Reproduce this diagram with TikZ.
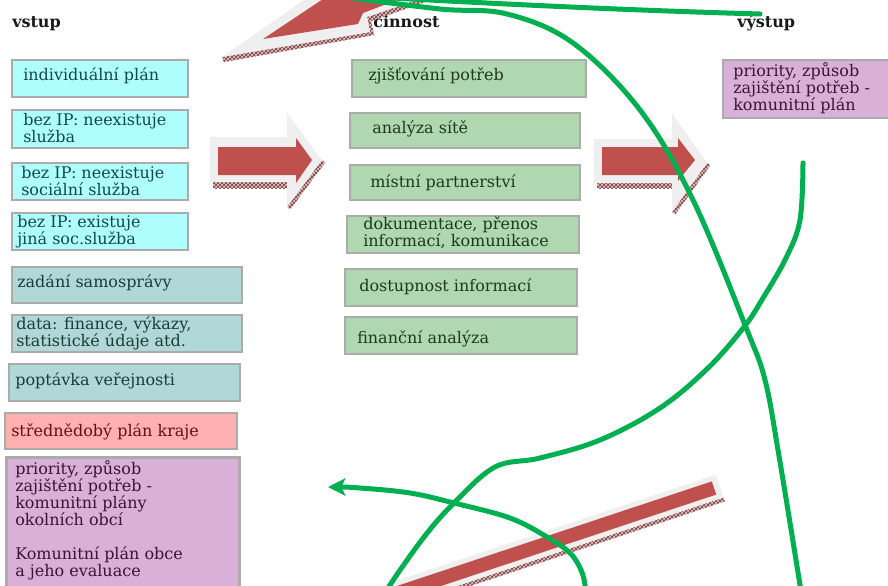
\documentclass[tikz,border=0pt]{standalone}
\usepackage{fontspec}
\setmainfont{DejaVu Serif}
\usetikzlibrary{fit,arrows.meta,patterns}
\definecolor{bordc}{HTML}{ABABAB}
\definecolor{cyanb}{HTML}{B0FFFF}
\definecolor{tealb}{HTML}{B0D8D8}
\definecolor{greenb}{HTML}{B0D8B0}
\definecolor{pinkb}{HTML}{FFB0B0}
\definecolor{purpb}{HTML}{D8B0D8}
\definecolor{cyant}{HTML}{124848}
\definecolor{tealt}{HTML}{1E3A3A}
\definecolor{greent}{HTML}{1E381E}
\definecolor{pinkt}{HTML}{6A0E0E}
\definecolor{purpt}{HTML}{3A1436}
\definecolor{arrred}{HTML}{C0504D}
\definecolor{arrgray}{HTML}{EFEFEF}
\definecolor{hatchbg}{HTML}{DDBDBD}
\definecolor{hatchfg}{HTML}{7A3A3A}
\definecolor{glinec}{HTML}{00B050}
\newcommand{\boxfont}{\fontsize{12}{12.75}\selectfont}
\begin{document}
\begin{tikzpicture}[x=0.75pt,y=-0.75pt,
  bx/.style={draw=bordc, line width=1.5pt, inner sep=0pt, rectangle},
  tx/.style={anchor=base west, inner sep=0pt, align=left, font=\boxfont},
  hd/.style={anchor=base west, inner sep=0pt, font=\boxfont\bfseries, text=black!90},
  grn/.style={draw=glinec, line width=3.75pt, line cap=round},
  hatch/.style={pattern=crosshatch, pattern color=hatchfg, preaction={fill=hatchbg}},
  arrg/.style={fill=arrgray},
  arrr/.style={fill=arrred}
]
\useasboundingbox (0,0) rectangle (888,585);
\clip (0,0) rectangle (888,585);

% headers
\node[hd] (hin) at (12,28) {vstup};
\node[hd] (hact) at (373,28) {činnost};
\node[hd] (hout) at (737,28) {výstup};

% left column (base anchor = baseline of last line)
\node[bx, fill=cyanb, fit={(12,60)(188,97)}] (b1) {};
\node[tx, text=cyant] (t1) at (23,80) {individuální plán};
\node[bx, fill=cyanb, fit={(12,110)(188,148)}] (b2) {};
\node[tx, text=cyant] (t2) at (23,142) {bez IP: neexistuje\\služba};
\node[bx, fill=cyanb, fit={(12,163)(188,200)}] (b3) {};
\node[tx, text=cyant] (t3) at (21,195) {bez IP: neexistuje\\sociální služba};
\node[bx, fill=cyanb, fit={(12,213)(188,250)}] (b4) {};
\node[tx, text=cyant] (t4) at (17,244) {bez IP: existuje\\jiná soc.služba};
\node[bx, fill=tealb, fit={(12,267)(242,303)}] (b5) {};
\node[tx, text=tealt] (t5) at (17,287) {zadání samosprávy};
\node[bx, fill=tealb, fit={(12,315)(242,352)}] (b6) {};
\node[tx, text=tealt] (t6) at (16,346) {data: finance, výkazy,\\statistické údaje atd.};
\node[bx, fill=tealb, fit={(9,364)(240,401)}] (b7) {};
\node[tx, text=tealt] (t7) at (15,385) {poptávka veřejnosti};
\node[bx, fill=pinkb, fit={(5,413)(237,449)}] (b8) {};
\node[tx, text=pinkt] (t8) at (11,436) {střednědobý plán kraje};
\node[bx, fill=purpb, line width=2.25pt, fit={(6,457)(239,600)}] (b9) {};
\node[tx, text=purpt] (t9) at (15,576) {priority, způsob\\zajištění potřeb -\\komunitní plány\\okolních obcí\\[12.75pt]Komunitní plán obce\\a jeho evaluace};

% middle column
\node[bx, fill=greenb, fit={(352,60)(586,97)}] (g1) {};
\node[tx, text=greent] (s1) at (368,80) {zjišťování potřeb};
\node[bx, fill=greenb, fit={(350,113)(580,148)}] (g2) {};
\node[tx, text=greent] (s2) at (372,133) {analýza sítě};
\node[bx, fill=greenb, fit={(350,165)(580,200)}] (g3) {};
\node[tx, text=greent] (s3) at (370,187) {místní partnerství};
\node[bx, fill=greenb, fit={(347,216)(579,253)}] (g4) {};
\node[tx, text=greent] (s4) at (363,246) {dokumentace, přenos\\informací, komunikace};
\node[bx, fill=greenb, fit={(345,269)(577,306)}] (g5) {};
\node[tx, text=greent] (s5) at (359,291) {dostupnost informací};
\node[bx, fill=greenb, fit={(345,317)(577,354)}] (g6) {};
\node[tx, text=greent] (s6) at (357,343) {finanční analýza};

% right column
\node[bx, fill=purpb, fit={(723,60)(895,118)}] (o1) {};
\node[tx, text=purpt] (u1) at (733,110) {priority, způsob\\zajištění potřeb -\\komunitní plán};

% block arrow 1
\fill[hatch] (213,182) rectangle (287,188);
\fill[hatch] (322,160) -- (325.2,162.4) -- (290.2,209.4) -- (287,207) -- cycle;
\fill[arrg] (210,137) -- (287,137) -- (287,113) -- (322,160) -- (287,207) -- (287,182) -- (210,182) -- cycle;
\fill[arrr] (218,147) -- (296,147) -- (296,138) -- (312,160) -- (296,183) -- (296,175) -- (218,175) -- cycle;

% block arrow 2
\fill[hatch] (597,183) rectangle (672,188);
\fill[hatch] (707,163) -- (710.2,165.4) -- (675.2,214.4) -- (672,212) -- cycle;
\fill[arrg] (594,139) -- (672,139) -- (672,113) -- (707,163) -- (672,212) -- (672,183) -- (594,183) -- cycle;
\fill[arrr] (602,147) -- (678,147) -- (678,138) -- (695,160) -- (678,181) -- (678,175) -- (602,175) -- cycle;

% top-left arrow
\fill[hatch] (222,57) -- (370,32) -- (367,17) -- (425,-3) -- (428,1) -- (371,21) -- (374,35) -- (224,62) -- cycle;
\fill[arrg] (222,57) -- (308,-3) -- (425,-3) -- (367,17) -- (370,32) -- cycle;
\fill[arrr] (263,39) -- (326,-3) -- (405,-3) -- (363,13) -- (358,24) -- cycle;

% bottom bar
\fill[hatch] (723.5,497.5) -- (724.7,501.3) -- (292.0,645.3) -- (290.8,641.2) -- cycle;
\fill[arrg] (723.5,497.5) -- (715.9,474.7) -- (283.2,618.4) -- (290.8,641.2) -- cycle;
\fill[arrr] (716.2,494.6) -- (711.8,481.4) -- (284.8,623.2) -- (289.2,636.4) -- cycle;

% green curves
\coordinate (ctop) at (375,-3);
\coordinate (cend) at (760,14);
\draw[grn] (ctop) .. controls (500,4) and (620,10) .. (cend);
\draw[grn] plot[smooth, tension=0.6] coordinates {(345,-3) (440,9) (507,14) (573,43) (640,110) (693,200) (747,330) (765,380) (778,450) (800,585) (802,600)};
\draw[grn] plot[smooth, tension=0.6] coordinates {(803,163) (800,220) (786,258) (763,298) (744,327) (708,368) (660,408) (600,440) (540,458) (495,467) (454,503) (424,537) (390,585) (383,600)};
\draw[grn, {Stealth[length=13pt, width=13pt, inset=3pt]}-] plot[smooth, tension=0.6] coordinates {(328,487) (360,488) (410,493) (454,503) (510,518) (547,537) (570,553) (581,570) (585,585) (586,600)};
\end{tikzpicture}
\end{document}
